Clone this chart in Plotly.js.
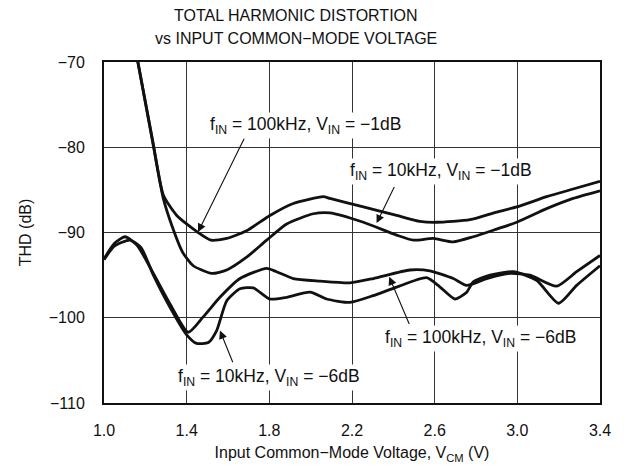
<!DOCTYPE html>
<html>
<head>
<meta charset="utf-8">
<script src="https://cdn.plot.ly/plotly-3.0.1.min.js"></script>
<style>html,body{margin:0;padding:0;background:#fff;}#chart{width:624px;height:469px;}</style>
</head>
<body>
<div id="chart"></div>
<script>
// 100kHz, VIN = -1dB
const xA = [1.16,1.237,1.287,1.352,1.455,1.518,1.594,1.69,1.803,1.916,2.061,2.093,2.255,2.416,2.529,2.61,2.771,2.90,2.997,3.142,3.27,3.40];
const yA = [-69.5,-79.4,-85.6,-88.0,-90.0,-90.9,-90.7,-89.8,-88.0,-86.6,-85.8,-86.0,-87.0,-88.0,-88.7,-88.8,-88.5,-87.6,-87.0,-85.8,-84.9,-84.0];
// 10kHz, VIN = -1dB
const xB = [1.16,1.237,1.287,1.33,1.38,1.432,1.521,1.594,1.69,1.787,1.884,2.013,2.093,2.255,2.416,2.497,2.593,2.69,2.787,2.90,2.997,3.142,3.27,3.40];
const yB = [-69.5,-79.6,-86.0,-89.3,-92.3,-93.9,-94.8,-94.4,-92.9,-90.9,-89.0,-87.8,-87.7,-88.8,-90.3,-90.9,-90.7,-91.1,-90.5,-89.6,-88.8,-87.2,-86.0,-85.1];
// 100kHz, VIN = -6dB
const xC = [1.0,1.05,1.102,1.16,1.239,1.32,1.408,1.48,1.561,1.658,1.787,1.835,1.916,2.045,2.19,2.303,2.48,2.577,2.69,2.755,2.852,2.965,3.061,3.19,3.287,3.4];
const yC = [-93.1,-91.3,-90.5,-91.5,-94.8,-98.4,-101.7,-99.9,-97.6,-95.4,-94.2,-94.6,-95.4,-95.7,-95.9,-95.4,-94.4,-94.5,-95.4,-96.2,-95.4,-94.8,-95.0,-96.3,-94.6,-92.7];
// 10kHz, VIN = -6dB
const xD = [1.0,1.05,1.126,1.18,1.239,1.32,1.40,1.448,1.505,1.545,1.594,1.658,1.723,1.803,1.884,1.997,2.077,2.19,2.303,2.416,2.561,2.626,2.698,2.755,2.787,2.868,2.98,3.093,3.2,3.287,3.4];
const yD = [-93.2,-91.6,-90.9,-91.8,-95.0,-98.8,-102.0,-103.0,-102.9,-101.5,-98.0,-96.6,-96.5,-97.8,-97.6,-97.0,-97.8,-98.2,-97.4,-96.4,-95.3,-96.4,-97.8,-97.0,-95.8,-95.0,-94.6,-95.6,-98.3,-96.2,-93.9];

const xTicks = [1.0,1.4,1.8,2.2,2.6,3.0,3.4];
const yTicks = [-110,-100,-90,-80,-70];
const titleLines = ['TOTAL HARMONIC DISTORTION', 'vs INPUT COMMON−MODE VOLTAGE'];

const FONT = 'Liberation Sans, Arial, Helvetica, sans-serif';
const lineStyle = {color:'#111', width:2.8, shape:'spline', smoothing:0.6};
const traces = [[xA,yA],[xB,yB],[xC,yC],[xD,yD]].map(([x,y]) => ({
  x:x, y:y, type:'scatter', mode:'lines', line:lineStyle, hoverinfo:'skip', showlegend:false
}));

function label(text, x, y){
  return {text:text, x:x, y:y, xref:'x', yref:'y', showarrow:false, bgcolor:'#fff', borderpad:1,
          font:{family:FONT, size:17.5, color:'#111'}, xanchor:'center', yanchor:'middle'};
}
function arrow(x0,y0,x1,y1){
  return {text:'', x:x1, y:y1, ax:x0, ay:y0, xref:'x', yref:'y', axref:'x', ayref:'y',
          showarrow:true, arrowhead:2, arrowsize:1.5, arrowwidth:1.1, arrowcolor:'#111', standoff:0, startstandoff:0};
}
function titleLine(text, y){
  return {text:text, xref:'paper', yref:'paper', x:0.387, y:y, xanchor:'center', yanchor:'middle',
          showarrow:false, font:{family:FONT, size:16, color:'#111'}};
}

const layout = {
  width:624, height:469,
  margin:{l:104, r:24, t:62, b:66},
  paper_bgcolor:'#fff', plot_bgcolor:'#fff',
  font:{family:FONT, size:16, color:'#111'},
  xaxis:{range:[1.0,3.4], tickvals:xTicks, ticktext:xTicks.map(v=>v.toFixed(1)), showgrid:true, gridcolor:'#333', gridwidth:1,
         showline:true, mirror:true, linecolor:'#111', linewidth:2, ticks:'', zeroline:false, ticklabelstandoff:12,
         tickfont:{family:FONT, size:16},
         title:{text:'Input Common−Mode Voltage, V<sub>CM</sub> (V)', font:{family:FONT, size:16}, standoff:9}},
  yaxis:{range:[-110,-70], tickvals:yTicks, ticktext:yTicks.map(v=>'−'+Math.abs(v)), showgrid:true, gridcolor:'#333', gridwidth:1,
         showline:true, mirror:true, linecolor:'#111', linewidth:2, ticks:'', zeroline:false, ticklabelstandoff:14,
         tickfont:{family:FONT, size:16},
         title:{text:'THD (dB)', font:{family:FONT, size:16}, standoff:13}},
  annotations:[
    titleLine(titleLines[0], 1.135),
    titleLine(titleLines[1], 1.07),
    arrow(1.682,-78.8,1.455,-89.95),
    arrow(2.408,-84.5,2.319,-88.9),
    arrow(2.48,-100.9,2.380,-95.2),
    arrow(1.626,-105.4,1.561,-101.5),
    label('f<sub>IN</sub> = 100kHz, V<sub>IN</sub> = −1dB', 1.975, -77.4),
    label('f<sub>IN</sub> = 10kHz, V<sub>IN</sub> = −1dB', 2.633, -82.9),
    label('f<sub>IN</sub> = 100kHz, V<sub>IN</sub> = −6dB', 2.821, -102.4),
    label('f<sub>IN</sub> = 10kHz, V<sub>IN</sub> = −6dB', 1.80, -107.0)
  ]
};
Plotly.newPlot('chart', traces, layout, {staticPlot:true, displayModeBar:false});
</script>
</body>
</html>
